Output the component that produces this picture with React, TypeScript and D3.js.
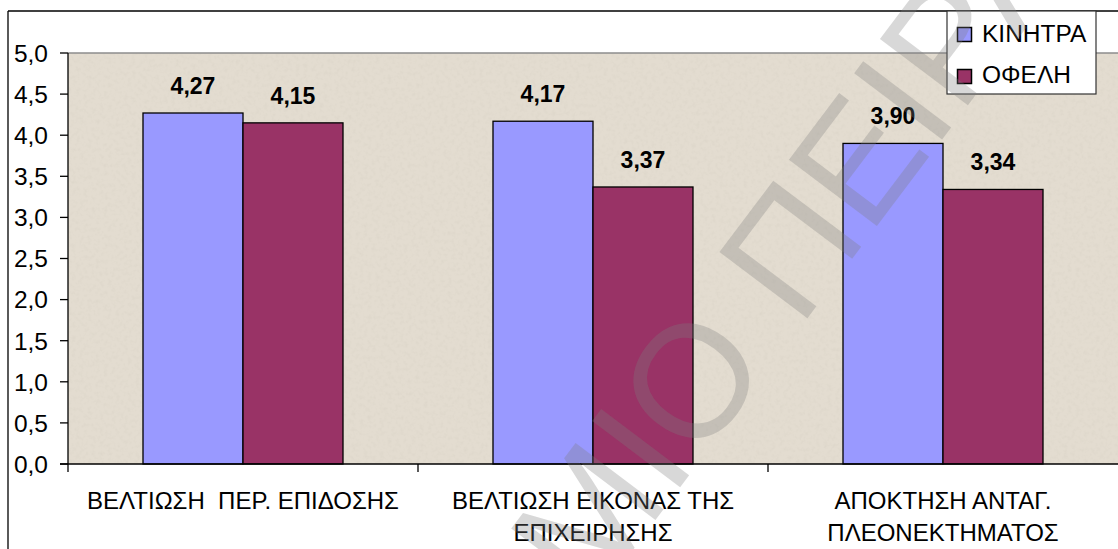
import React from "react";
import * as d3 from "d3";

const categories: string[][] = [
  ["ΒΕΛΤΙΩΣΗ  ΠΕΡ. ΕΠΙΔΟΣΗΣ"],
  ["ΒΕΛΤΙΩΣΗ ΕΙΚΟΝΑΣ ΤΗΣ", "ΕΠΙΧΕΙΡΗΣΗΣ"],
  ["ΑΠΟΚΤΗΣΗ ΑΝΤΑΓ.", "ΠΛΕΟΝΕΚΤΗΜΑΤΟΣ"],
];
const seriesNames = ["ΚΙΝΗΤΡΑ", "ΟΦΕΛΗ"];
const kinitra = [4.27, 4.17, 3.9];
const ofeli = [4.15, 3.37, 3.34];
const yTicks = [0, 0.5, 1, 1.5, 2, 2.5, 3, 3.5, 4, 4.5, 5];
const colors = ["#9999FF", "#993366"];

const W = 1118;
const H = 549;
const plot = { left: 68, right: 1118, top: 53, bottom: 464 };
const FONT = "Arial, 'Liberation Sans', sans-serif";

const fmt = (v: number, d: number) => v.toFixed(d).replace(".", ",");

export default function App() {
  const x = d3
    .scaleBand<number>()
    .domain(d3.range(categories.length))
    .range([plot.left, plot.right])
    .padding(0);
  const inner = d3
    .scaleBand<number>()
    .domain([0, 1])
    .range([75, x.bandwidth() - 75])
    .padding(0);
  const y = d3.scaleLinear().domain([0, 5]).range([plot.bottom, plot.top]);
  const series = [kinitra, ofeli];

  // watermark anchor
  const ang = -53;
  const ex = 773;
  const ey = 364;

  return (
    <svg
      width={W}
      height={H}
      style={{ position: "absolute", left: 0, top: 0, display: "block" }}
      fontFamily={FONT}
    >
      <defs>
        <filter id="tex" x="0" y="0" width="100%" height="100%">
          <feTurbulence type="fractalNoise" baseFrequency="0.25" numOctaves="3" seed="3" result="n" />
          <feColorMatrix
            in="n"
            type="matrix"
            values="0 0 0 0 0.62  0 0 0 0 0.58  0 0 0 0 0.5  0 0 0 -2.2 1.2"
            result="c"
          />
          <feComposite in="c" in2="SourceGraphic" operator="in" />
        </filter>
      </defs>
      <rect x={0} y={0} width={W} height={H} fill="#ffffff" />
      {/* outer frame */}
      <line x1={8} y1={11} x2={W} y2={11} stroke="#000" strokeWidth={1.3} />
      <line x1={8} y1={11} x2={8} y2={H} stroke="#000" strokeWidth={1.3} />
      {/* plot area */}
      <rect
        x={plot.left}
        y={plot.top}
        width={plot.right - plot.left}
        height={plot.bottom - plot.top}
        fill="#e3dcd0"
      />
      <rect
        x={plot.left}
        y={plot.top}
        width={plot.right - plot.left}
        height={plot.bottom - plot.top}
        fill="#e3dcd0"
        filter="url(#tex)"
        opacity={0.25}
      />
      <line x1={plot.left} y1={plot.top} x2={plot.right} y2={plot.top} stroke="#8c8c8c" strokeWidth={1.5} />
      {/* bars */}
      {series.map((vals, si) =>
        vals.map((v, ci) => (
          <rect
            key={`b${si}-${ci}`}
            x={(x(ci) as number) + (inner(si) as number)}
            y={y(v)}
            width={inner.bandwidth()}
            height={y(0) - y(v)}
            fill={colors[si]}
            stroke="#000"
            strokeWidth={1.3}
          />
        ))
      )}
      {/* value labels */}
      {series.map((vals, si) =>
        vals.map((v, ci) => (
          <text
            key={`l${si}-${ci}`}
            x={(x(ci) as number) + (inner(si) as number) + inner.bandwidth() / 2}
            y={y(v) - 19}
            textAnchor="middle"
            fontSize={23}
            fontWeight="bold"
            fill="#000"
          >
            {fmt(v, 2)}
          </text>
        ))
      )}
      {/* y axis */}
      <line x1={plot.left} y1={plot.top} x2={plot.left} y2={plot.bottom} stroke="#000" strokeWidth={1.3} />
      {yTicks.map((t) => (
        <g key={`yt${t}`}>
          <line x1={plot.left - 8} x2={plot.left} y1={y(t)} y2={y(t)} stroke="#000" strokeWidth={1.3} />
          <text x={48} y={y(t)} dy="0.36em" textAnchor="end" fontSize={24.5} fill="#000">
            {fmt(t, 1)}
          </text>
        </g>
      ))}
      {/* x axis */}
      <line x1={plot.left - 8} x2={plot.right} y1={plot.bottom} y2={plot.bottom} stroke="#000" strokeWidth={1.3} />
      {categories.map((c, ci) => (
        <g key={`xc${ci}`}>
          <line
            x1={x(ci) as number}
            x2={x(ci) as number}
            y1={plot.bottom}
            y2={plot.bottom + 8}
            stroke="#000"
            strokeWidth={1.3}
          />
          {c.map((line, li) => (
            <text
              key={li}
              x={(x(ci) as number) + x.bandwidth() / 2}
              y={509 + li * 32}
              textAnchor="middle"
              fontSize={24}
              fill="#000"
              xmlSpace="preserve"
              style={{ whiteSpace: "pre" }}
            >
              {line}
            </text>
          ))}
        </g>
      ))}
      {/* legend */}
      <rect x={947} y={11} width={149} height={83} fill="#fff" stroke="#333" strokeWidth={1.2} />
      {seriesNames.map((n, i) => (
        <g key={`lg${i}`}>
          <rect x={957.5} y={27.5 + i * 42} width={14} height={14} fill={colors[i]} stroke="#000" strokeWidth={1.5} />
          <text x={982} y={42 + i * 41} fontSize={24.5} fill="#000">
            {n}
          </text>
        </g>
      ))}
      {/* watermark */}
      <g transform={`translate(${ex},${ey}) rotate(${ang})`} fill="#7f7f7f" fillOpacity={0.3} fontSize={160}>
        <text x={0} y={0} textAnchor="end">
          ΠΑΝΕΠΙΣΤΗΜΙΟ
        </text>
        <text x={44} y={0} textAnchor="start">
          ΠΕΙΡΑΙΩΣ
        </text>
      </g>
    </svg>
  );
}
